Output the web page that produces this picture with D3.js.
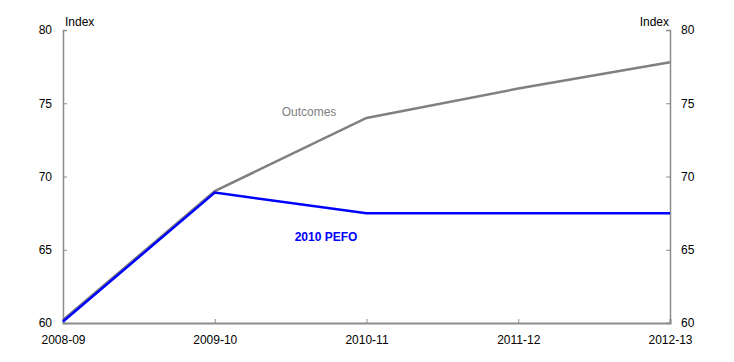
<!DOCTYPE html>
<html>
<head>
<meta charset="utf-8">
<script src="https://cdn.jsdelivr.net/npm/d3@7"></script>
<style>
  body { margin: 0; background: #fff; }
  text { font-family: "Liberation Sans", Arial, sans-serif; }
</style>
</head>
<body>
<div id="chart"></div>
<script>
const years = ["2008-09", "2009-10", "2010-11", "2011-12", "2012-13"];
const outcomes = [60.2, 69.0, 74.0, 76.0, 77.8];
const pefo = [60.1, 68.9, 67.5, 67.5, 67.5];
const yTicks = [60, 65, 70, 75, 80];

const width = 734;
const height = 362;
const margin = { top: 30, right: 64, bottom: 39, left: 63 };

const svg = d3.select("#chart")
  .append("svg")
  .attr("width", width)
  .attr("height", height);

const x = d3.scalePoint()
  .domain(years)
  .range([margin.left, width - margin.right]);

const y = d3.scaleLinear()
  .domain([60, 80])
  .range([height - margin.bottom, margin.top]);

const axisColor = "#8c8c8c";

// bottom axis
const gx = svg.append("g")
  .attr("transform", `translate(0, ${height - margin.bottom})`)
  .call(d3.axisBottom(x).tickSize(-4).tickPadding(12));
gx.select(".domain").attr("stroke", axisColor).attr("stroke-width", 2);
gx.selectAll(".tick line").attr("stroke", axisColor);
gx.selectAll(".tick text").attr("font-size", 12).attr("fill", "#000");

// left axis
const gl = svg.append("g")
  .attr("transform", `translate(${margin.left}, 0)`)
  .call(d3.axisLeft(y).tickValues(yTicks).tickSize(-4).tickPadding(11));
gl.select(".domain").attr("stroke", axisColor).attr("stroke-width", 1.5);
gl.selectAll(".tick line").attr("stroke", axisColor);
gl.selectAll(".tick text").attr("font-size", 12).attr("fill", "#000");

// right axis
const gr = svg.append("g")
  .attr("transform", `translate(${width - margin.right}, 0)`)
  .call(d3.axisRight(y).tickValues(yTicks).tickSize(-4).tickPadding(11));
gr.select(".domain").attr("stroke", axisColor).attr("stroke-width", 1.5);
gr.selectAll(".tick line").attr("stroke", axisColor);
gr.selectAll(".tick text").attr("font-size", 12).attr("fill", "#000");

svg.append("text")
  .attr("x", margin.left + 2)
  .attr("y", 26)
  .attr("font-size", 12)
  .text("Index");

svg.append("text")
  .attr("x", width - margin.right - 1)
  .attr("y", 26)
  .attr("text-anchor", "end")
  .attr("font-size", 12)
  .text("Index");

const line = d3.line()
  .x((d, i) => x(years[i]))
  .y(d => y(d));

svg.append("path")
  .datum(outcomes)
  .attr("fill", "none")
  .attr("stroke", "#808080")
  .attr("stroke-width", 2.5)
  .attr("d", line);

svg.append("path")
  .datum(pefo)
  .attr("fill", "none")
  .attr("stroke", "#0000ff")
  .attr("stroke-width", 2.5)
  .attr("d", line);

svg.append("text")
  .attr("x", 309)
  .attr("y", 116)
  .attr("text-anchor", "middle")
  .attr("font-size", 12)
  .attr("fill", "#808080")
  .text("Outcomes");

svg.append("text")
  .attr("x", 326)
  .attr("y", 241)
  .attr("text-anchor", "middle")
  .attr("font-size", 12)
  .attr("font-weight", "bold")
  .attr("fill", "#0000ff")
  .text("2010 PEFO");
</script>
</body>
</html>
